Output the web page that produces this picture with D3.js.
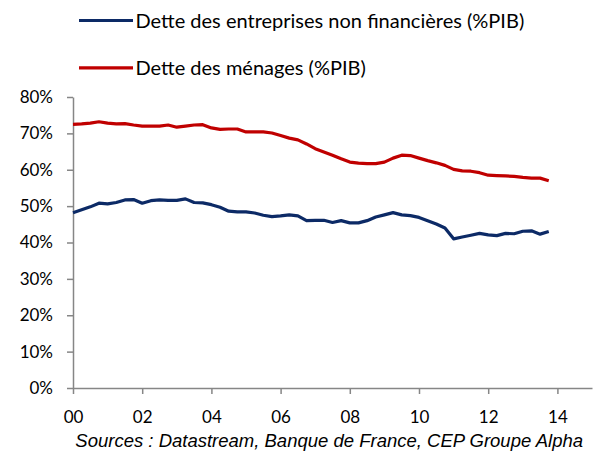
<!DOCTYPE html>
<html>
<head>
<meta charset="utf-8">
<script src="https://cdn.jsdelivr.net/npm/d3@7"></script>
<style>
  body { margin: 0; background: #fff; }
  svg { display: block; }
  .tick text { font-family: Lato, sans-serif; fill: #000; }
</style>
</head>
<body>
<svg id="chart" width="600" height="453"></svg>
<script>
// quarterly data, 2000 Q1 -> 2013 Q4
var startYear = 2000;
var entreprises = [48.2, 49.0, 49.8, 50.8, 50.6, 51.0, 51.7, 51.8, 50.8, 51.5, 51.7, 51.6, 51.6, 52.0,
  51.0, 50.9, 50.4, 49.7, 48.6, 48.4, 48.4, 48.1, 47.5, 47.1, 47.3, 47.6, 47.3, 46.0, 46.1, 46.1,
  45.5, 46.0, 45.4, 45.4, 46.0, 47.0, 47.6, 48.2, 47.6, 47.4, 46.9, 46.0, 45.1, 44.0, 41.0, 41.5,
  42.0, 42.5, 42.1, 41.9, 42.5, 42.4, 43.1, 43.2, 42.3, 43.0];
var menages = [72.5, 72.6, 72.8, 73.2, 72.8, 72.6, 72.7, 72.3, 72.0, 72.0, 72.0, 72.3, 71.7, 72.0,
  72.3, 72.4, 71.5, 71.1, 71.2, 71.2, 70.4, 70.4, 70.4, 70.1, 69.4, 68.7, 68.2, 67.1, 65.8, 64.9,
  64.0, 63.0, 62.1, 61.8, 61.7, 61.7, 62.1, 63.2, 64.0, 63.9, 63.2, 62.5, 61.9, 61.2, 60.1, 59.7,
  59.6, 59.2, 58.5, 58.4, 58.3, 58.2, 57.9, 57.7, 57.7, 57.0];
var xTicks = [2000, 2002, 2004, 2006, 2008, 2010, 2012, 2014];
var yTicks = [0, 10, 20, 30, 40, 50, 60, 70, 80];
var seriesNames = ["Dette des entreprises non financières (%PIB)", "Dette des ménages (%PIB)"];
var colors = ["#0c2a66", "#c00000"];

var svg = d3.select("#chart"),
    margin = {top: 97, right: 8, bottom: 65, left: 73},
    width = +svg.attr("width") - margin.left - margin.right,
    height = +svg.attr("height") - margin.top - margin.bottom;

var x = d3.scaleLinear().domain([2000, 2015]).range([0, width]),
    y = d3.scaleLinear().domain([0, 80]).range([height, 0]);

var g = svg.append("g")
    .attr("transform", "translate(" + margin.left + "," + margin.top + ")");

// axes
var xAxis = g.append("g")
    .attr("transform", "translate(0," + height + ")")
    .call(d3.axisBottom(x).tickValues(xTicks).tickSize(6).tickSizeOuter(0).tickPadding(17)
      .tickFormat(function(d) { return d3.format("02d")(d % 100); }));

var yAxis = g.append("g")
    .call(d3.axisLeft(y).tickValues(yTicks).tickSize(6).tickSizeOuter(0).tickPadding(14)
      .tickFormat(function(d) { return d + "%"; }));

[xAxis, yAxis].forEach(function(a) {
  a.select(".domain").attr("stroke", "#868686").attr("stroke-width", 1.5);
  a.selectAll(".tick line").attr("stroke", "#868686").attr("stroke-width", 1.5);
  a.selectAll(".tick text").style("font-size", "17px");
});

// lines
var line = d3.line()
    .x(function(d, i) { return x(startYear + i / 4); })
    .y(function(d) { return y(d); });

[entreprises, menages].forEach(function(s, k) {
  g.append("path")
    .datum(s)
    .attr("fill", "none")
    .attr("stroke", colors[k])
    .attr("stroke-width", 3.2)
    .attr("stroke-linejoin", "round")
    .attr("d", line);
});

// legend
var legend = svg.append("g");
seriesNames.forEach(function(name, k) {
  var ly = 20.5 + k * 47.3;
  legend.append("line")
    .attr("x1", 79).attr("x2", 133)
    .attr("y1", ly).attr("y2", ly)
    .attr("stroke", colors[k])
    .attr("stroke-width", 3.2);
  legend.append("text")
    .attr("x", 135.5).attr("y", ly + 7.2)
    .style("font-family", "Lato, sans-serif")
    .style("font-size", "20px")
    .text(name);
});

// source
svg.append("text")
  .attr("x", 583).attr("y", 447)
  .attr("text-anchor", "end")
  .style("font-family", "'Liberation Sans', Arial, sans-serif")
  .style("font-style", "italic")
  .style("font-size", "18.5px")
  .text("Sources : Datastream, Banque de France, CEP Groupe Alpha");
</script>
</body>
</html>
